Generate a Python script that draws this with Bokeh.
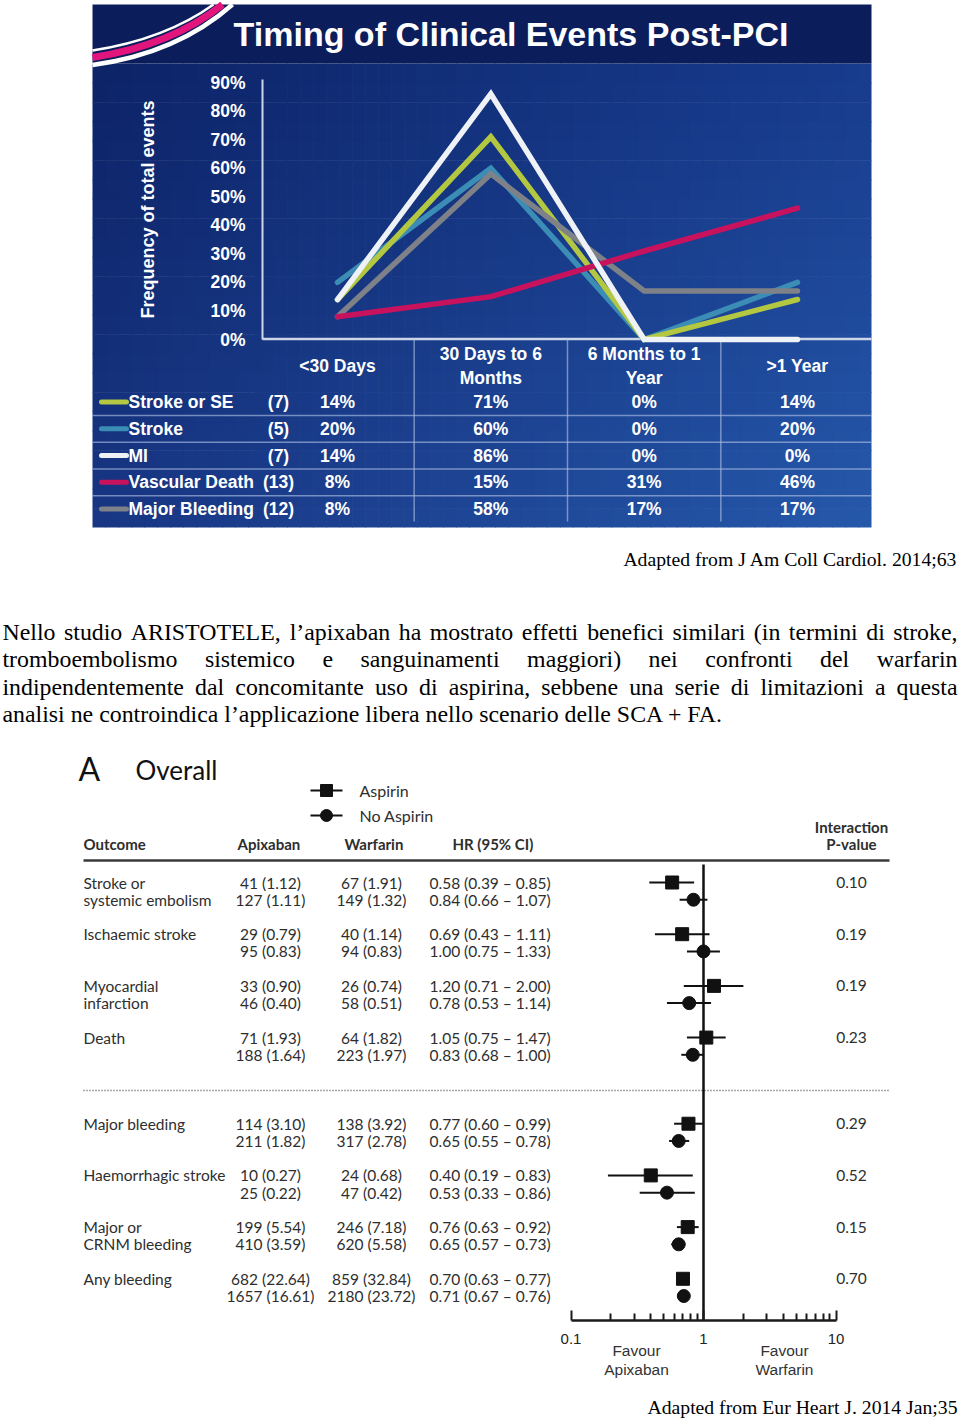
import numpy as np
from bokeh.plotting import figure
from bokeh.models import (Range1d, LinearAxis, LogAxis, LogScale, FixedTicker,
                          PrintfTickFormatter, CustomJSTickFormatter)
from bokeh.core.properties import value
from bokeh.embed import file_html
from bokeh.resources import INLINE

# ------------------------------------------------------------------ data
chart_title = "Timing of Clinical Events Post-PCI"
periods = ["<30 Days", "30 Days to 6\nMonths", "6 Months to 1\nYear", ">1 Year"]
series_names = ["Stroke or SE", "Stroke", "MI", "Vascular Death", "Major Bleeding"]
event_counts = [7, 5, 7, 13, 12]
stroke_se = [14, 71, 0, 14]
stroke = [20, 60, 0, 20]
mi = [14, 86, 0, 0]
vascular_death = [8, 15, 31, 46]
major_bleeding = [8, 58, 17, 17]
series_colors = ["#b3c741", "#3b8db6", "#eef1f5", "#c8125e", "#7e8187"]
y_ticks = [0, 10, 20, 30, 40, 50, 60, 70, 80, 90]

outcomes = ["Stroke or\nsystemic embolism", "Ischaemic stroke", "Myocardial\ninfarction",
            "Death", "Major bleeding", "Haemorrhagic stroke", "Major or\nCRNM bleeding",
            "Any bleeding"]
outcome_section = [0, 0, 0, 0, 1, 1, 1, 1]
apix_asp = ["41 (1.12)", "29 (0.79)", "33 (0.90)", "71 (1.93)", "114 (3.10)",
            "10 (0.27)", "199 (5.54)", "682 (22.64)"]
apix_noasp = ["127 (1.11)", "95 (0.83)", "46 (0.40)", "188 (1.64)", "211 (1.82)",
              "25 (0.22)", "410 (3.59)", "1657 (16.61)"]
warf_asp = ["67 (1.91)", "40 (1.14)", "26 (0.74)", "64 (1.82)", "138 (3.92)",
            "24 (0.68)", "246 (7.18)", "859 (32.84)"]
warf_noasp = ["149 (1.32)", "94 (0.83)", "58 (0.51)", "223 (1.97)", "317 (2.78)",
              "47 (0.42)", "620 (5.58)", "2180 (23.72)"]
hr_asp = [0.58, 0.69, 1.20, 1.05, 0.77, 0.40, 0.76, 0.70]
lo_asp = [0.39, 0.43, 0.71, 0.75, 0.60, 0.19, 0.63, 0.63]
hi_asp = [0.85, 1.11, 2.00, 1.47, 0.99, 0.83, 0.92, 0.77]
hr_noasp = [0.84, 1.00, 0.78, 0.83, 0.65, 0.53, 0.65, 0.71]
lo_noasp = [0.66, 0.75, 0.53, 0.68, 0.55, 0.33, 0.57, 0.67]
hi_noasp = [1.07, 1.33, 1.14, 1.00, 0.78, 0.86, 0.73, 0.76]
p_interaction = ["0.10", "0.19", "0.19", "0.23", "0.29", "0.52", "0.15", "0.70"]
hr_ticks = [0.1, 1, 10]
hr_minor_ticks = [0.2, 0.3, 0.4, 0.5, 0.6, 0.7, 0.8, 0.9, 2, 3, 4, 5, 6, 7, 8, 9]

caption_top = "Adapted from J Am Coll Cardiol. 2014;63"
caption_bottom = "Adapted from Eur Heart J. 2014 Jan;35"
paragraph = [
    "Nello studio ARISTOTELE, l\u2019apixaban ha mostrato effetti benefici similari (in termini di stroke,",
    "tromboembolismo sistemico e sanguinamenti maggiori) nei confronti del warfarin",
    "indipendentemente dal concomitante uso di aspirina, sebbene una serie di limitazioni a questa",
    "analisi ne controindica l\u2019applicazione libera nello scenario delle SCA + FA.",
]

# ------------------------------------------------------------------ canvas
W, H = 960, 1421
p = figure(width=W, height=H, x_range=Range1d(0, W), y_range=Range1d(H, 0),
           x_axis_type=None, y_axis_type=None, toolbar_location=None,
           output_backend="svg", min_border=0, outline_line_color=None,
           background_fill_color="white", border_fill_color="white")
p.styles = {"position": "absolute", "left": "0px", "top": "0px"}

# line chart scales
LC_X0, LC_DX = 337.0, 153.33
LC_Y0, LC_DY = 339.0, 2.855
p.extra_x_ranges["lc_x"] = Range1d(-LC_X0 / LC_DX, (W - LC_X0) / LC_DX)
p.extra_y_ranges["lc_y"] = Range1d((LC_Y0 - H) / LC_DY, LC_Y0 / LC_DY)
# forest plot scales
FP_X1, FP_DEC = 703.0, 132.5
FP_Y0, FP_DY = 882.0, 17.23
p.extra_x_ranges["fp_x"] = Range1d(10 ** (-FP_X1 / FP_DEC), 10 ** ((W - FP_X1) / FP_DEC))
p.extra_x_scales = {"fp_x": LogScale()}
p.extra_y_ranges["fp_y"] = Range1d((H - FP_Y0) / FP_DY, -FP_Y0 / FP_DY)


def txt(x, y, s, size, font="Liberation Sans", color="black", align="left",
        baseline="middle", style="normal", angle=0.0, xr="default", yr="default", lh=1.2):
    xs = list(x) if isinstance(x, (list, tuple)) else [x]
    ys = list(y) if isinstance(y, (list, tuple)) else [y]
    ss = list(s) if isinstance(s, (list, tuple)) else [s]
    n = max(len(xs), len(ys), len(ss))
    xs = xs * n if len(xs) == 1 else xs
    ys = ys * n if len(ys) == 1 else ys
    ss = ss * n if len(ss) == 1 else ss
    p.text(x=xs, y=ys, text=ss, text_font=value(font), text_font_size=f"{size}px",
           text_color=color, text_align=align, text_baseline=baseline,
           text_font_style=style, angle=angle, x_range_name=xr, y_range_name=yr,
           text_line_height=lh)


# ------------------------------------------------------------------ chart block background
BX0, BX1, BY0, BYT, BY1 = 92, 871, 4, 63, 527
nx, ny = 60, 24
xe = np.linspace(BX0, BX1, nx + 1)
ye = np.linspace(BYT, BY1, ny + 1)
tl, tr = np.array([13, 36, 104]), np.array([24, 60, 142])
bl, br = np.array([24, 54, 132]), np.array([38, 88, 170])
L, R, T, B, C = [], [], [], [], []
for i in range(nx):
    tx = i / (nx - 1)
    for j in range(ny):
        ty = j / (ny - 1)
        c = (tl * (1 - tx) * (1 - ty) + tr * tx * (1 - ty) + bl * (1 - tx) * ty + br * tx * ty)
        L.append(xe[i]); R.append(min(xe[i + 1] + 0.7, BX1))
        T.append(ye[j]); B.append(min(ye[j + 1] + 0.7, BY1))
        C.append("#%02x%02x%02x" % tuple(int(v) for v in c))
p.quad(left=L, right=R, top=T, bottom=B, fill_color=C, line_color=None)
p.quad(left=[BX0], right=[BX1], top=[BY0], bottom=[BYT], fill_color="#0b1d5b", line_color=None)

# swoosh
p.bezier(x0=[92], y0=[50], x1=[213], y1=[4], cx0=[150], cy0=[41], cx1=[188], cy1=[22],
         line_color="white", line_width=2.5)
p.bezier(x0=[92], y0=[57], x1=[222], y1=[4], cx0=[156], cy0=[47], cx1=[196], cy1=[25],
         line_color="#e2157c", line_width=7)
p.bezier(x0=[92], y0=[64.5], x1=[232], y1=[4], cx0=[162], cy0=[55], cx1=[206], cy1=[27],
         line_color="white", line_width=4.5)

txt(510.5, 33, chart_title, 34, color="white", align="center", style="bold")

# baseline + table grid
p.segment(x0=[262], x1=[BX1], y0=[338.5], y1=[338.5], line_color="#cdd6e8", line_width=2.5)
ROW_Y0, ROW_DY = 401.5, 26.75
row_y = [ROW_Y0 + k * ROW_DY for k in range(len(series_names))]
sep_y = [y + ROW_DY / 2 for y in row_y[:-1]]
p.segment(x0=[BX0] * len(sep_y), x1=[BX1] * len(sep_y), y0=sep_y, y1=sep_y,
          line_color="#a9bbe0", line_alpha=0.65, line_width=1.5)
p.segment(x0=[k + 0.5 for k in range(len(periods) - 1)],
          x1=[k + 0.5 for k in range(len(periods) - 1)],
          y0=[339] * 3, y1=[521] * 3, x_range_name="lc_x",
          line_color="#a9bbe0", line_alpha=0.65, line_width=1.5)

# y axis
yax = LinearAxis(y_range_name="lc_y", fixed_location=262,
                 ticker=FixedTicker(ticks=y_ticks),
                 formatter=PrintfTickFormatter(format="%d%%"),
                 bounds=(0, 91))
yax.axis_line_color = "#cdd6e8"
yax.axis_line_width = 2
yax.major_tick_line_color = None
yax.minor_tick_line_color = None
yax.major_tick_out = 0
yax.major_tick_in = 0
yax.major_label_standoff = 17
yax.major_label_text_color = "white"
yax.major_label_text_font = "Liberation Sans"
yax.major_label_text_font_style = "bold"
yax.major_label_text_font_size = "17.5px"
p.add_layout(yax, "left")
txt(147, 209, "Frequency of total events", 18, color="white", align="center",
    style="bold", angle=np.pi / 2)

# lines
series_values = [stroke_se, stroke, mi, vascular_death, major_bleeding]
xs = list(range(len(periods)))
for k in [1, 0, 4, 3, 2]:
    p.line(x=xs, y=series_values[k], x_range_name="lc_x", y_range_name="lc_y",
           line_color=series_colors[k], line_width=5.5, line_join="miter", line_cap="round")

# table
txt(xs, [365] * 4, periods, 17.5, color="white", align="center", style="bold", xr="lc_x")
for k, name in enumerate(series_names):
    p.segment(x0=[101], x1=[126], y0=[row_y[k]], y1=[row_y[k]], line_color=series_colors[k],
              line_width=5, line_cap="round")
    txt(128, row_y[k], name, 17.5, color="white", style="bold")
    txt(278, row_y[k], f"({event_counts[k]})", 17.5, color="white", align="center", style="bold")
    txt(xs, [row_y[k]] * 4, [f"{v}%" for v in series_values[k]], 17.5, color="white",
        align="center", style="bold", xr="lc_x")

# ------------------------------------------------------------------ text
TIMES = {" ": 250, "(": 333, ")": 333, "+": 564, ",": 250, "-": 333, ".": 250, ";": 278,
         ":": 278, "\u2019": 333,
         "A": 722, "B": 667, "C": 667, "D": 722, "E": 611, "F": 556, "G": 722, "H": 722,
         "I": 333, "J": 389, "K": 722, "L": 611, "M": 889, "N": 722, "O": 722, "P": 556,
         "Q": 722, "R": 667, "S": 556, "T": 611, "U": 722, "V": 722, "W": 944, "X": 722,
         "Y": 722, "Z": 611,
         "a": 444, "b": 500, "c": 444, "d": 500, "e": 444, "f": 333, "g": 500, "h": 500,
         "i": 278, "j": 278, "k": 500, "l": 278, "m": 778, "n": 500, "o": 500, "p": 500,
         "q": 500, "r": 333, "s": 389, "t": 278, "u": 500, "v": 500, "w": 722, "x": 500,
         "y": 500, "z": 444}


def tw(s, size):
    return sum(TIMES.get(ch, 500) for ch in s) / 1000.0 * size


SERIF = "Liberation Serif"
PSIZE = 23.85
txt(957, 558, caption_top, 19.7, font=SERIF, align="right", baseline="middle")
base_y = [631.0, 658.7, 686.0, 713.5]
for li, line in enumerate(paragraph):
    if li < len(paragraph) - 1:
        words = line.split(" ")
        natural = sum(tw(w, PSIZE) for w in words)
        gap = (957 - 2 - natural) / (len(words) - 1)
        x = 2.0
        wx = []
        for w in words:
            wx.append(x)
            x += tw(w, PSIZE) + gap
        txt(wx, [base_y[li]] * len(words), words, PSIZE, font=SERIF, baseline="alphabetic")
    else:
        txt(2, base_y[li], line, PSIZE, font=SERIF, baseline="alphabetic")
txt(957, 1406, caption_bottom, 19.7, font=SERIF, align="right", baseline="middle")

# ------------------------------------------------------------------ forest plot
FONT = "Lato"
DARK = "#2e2e2e"
txt(78, 768, "A", 32, font=FONT, color="#111111")
txt(135, 769, "Overall", 26, font=FONT, color="#111111")

# legend
p.segment(x0=[310, 310], x1=[342, 342], y0=[790, 815], y1=[790, 815], line_color="#111111",
          line_width=2)
p.scatter(x=[326], y=[790], marker="square", size=12, color="#111111")
p.scatter(x=[326], y=[815], marker="circle", size=12, color="#111111")
txt([359, 359], [790, 815], ["Aspirin", "No Aspirin"], 16, font=FONT, color=DARK)

# header
txt([83, 237, 344, 452], [843] * 4, ["Outcome", "Apixaban", "Warfarin", "HR (95% CI)"],
    15, font=FONT, color=DARK, style="bold")
txt([851, 851], [826, 843], ["Interaction", "P-value"], 15, font=FONT, color=DARK,
    align="center", style="bold")
p.segment(x0=[83], x1=[889], y0=[860], y1=[860], line_color="#3a3a3a", line_width=2.5)
p.segment(x0=[83], x1=[889], y0=[1090], y1=[1090], line_color="#555555", line_width=1.5,
          line_dash="1 2")


def unit(g, r):
    return g * 3 + r + 2 * outcome_section[g]


u0 = [unit(g, 0) for g in range(len(outcomes))]
u1 = [unit(g, 1) for g in range(len(outcomes))]

for g, lab in enumerate(outcomes):
    for r, part in enumerate(lab.split("\n")):
        txt(83, unit(g, r), part, 15.5, font=FONT, color=DARK, yr="fp_y")
FS = 15.5
txt([270] * 8, u0, apix_asp, FS, font=FONT, color=DARK, align="center", yr="fp_y")
txt([270] * 8, u1, apix_noasp, FS, font=FONT, color=DARK, align="center", yr="fp_y")
txt([371] * 8, u0, warf_asp, FS, font=FONT, color=DARK, align="center", yr="fp_y")
txt([371] * 8, u1, warf_noasp, FS, font=FONT, color=DARK, align="center", yr="fp_y")
fmt = lambda h, l, u: f"{h:.2f} ({l:.2f} \u2013 {u:.2f})"
txt([429] * 8, u0, [fmt(*t) for t in zip(hr_asp, lo_asp, hi_asp)], FS, font=FONT,
    color=DARK, yr="fp_y")
txt([429] * 8, u1, [fmt(*t) for t in zip(hr_noasp, lo_noasp, hi_noasp)], FS, font=FONT,
    color=DARK, yr="fp_y")
txt([851] * 8, u0, p_interaction, FS, font=FONT, color=DARK, align="center", yr="fp_y")

# reference line at HR = 1
p.segment(x0=[1], x1=[1], y0=[864], y1=[1320], x_range_name="fp_x", line_color="#111111",
          line_width=2.5)
# CIs and markers
p.segment(x0=lo_asp, x1=hi_asp, y0=u0, y1=u0, x_range_name="fp_x", y_range_name="fp_y",
          line_color="#111111", line_width=2)
p.segment(x0=lo_noasp, x1=hi_noasp, y0=u1, y1=u1, x_range_name="fp_x", y_range_name="fp_y",
          line_color="#111111", line_width=2)
p.scatter(x=hr_asp, y=u0, marker="square", size=13, color="#111111", x_range_name="fp_x",
          y_range_name="fp_y")
p.scatter(x=hr_noasp, y=u1, marker="circle", size=13, color="#111111", x_range_name="fp_x",
          y_range_name="fp_y")

xax = LogAxis(x_range_name="fp_x", fixed_location=1320,
              ticker=FixedTicker(ticks=hr_ticks, minor_ticks=hr_minor_ticks),
              formatter=CustomJSTickFormatter(code="return tick < 1 ? tick.toFixed(1) : tick.toFixed(0);"),
              bounds=(0.1, 10))
xax.axis_line_color = "#1a1a1a"
xax.axis_line_width = 2.5
xax.major_tick_in = 10
xax.major_tick_out = 0
xax.minor_tick_in = 7
xax.minor_tick_out = 0
xax.major_tick_line_color = "#1a1a1a"
xax.minor_tick_line_color = "#1a1a1a"
xax.major_tick_line_width = 2
xax.minor_tick_line_width = 2
xax.major_label_standoff = 13
xax.major_label_text_font = "Liberation Sans"
xax.major_label_text_font_size = "15px"
xax.major_label_text_color = "#222222"
p.add_layout(xax, "below")

txt([636, 636, 784, 784], [1350, 1369, 1350, 1369],
    ["Favour", "Apixaban", "Favour", "Warfarin"], 15.5, color="#333333", align="center")

open("out.html", "w").write(file_html(p, INLINE))
